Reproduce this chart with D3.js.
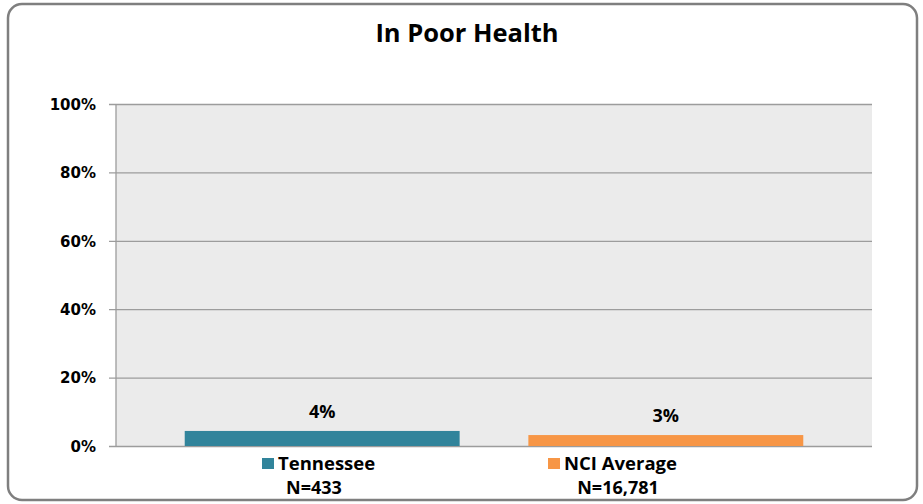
<!DOCTYPE html>
<html>
<head>
<meta charset="utf-8">
<script src="https://cdn.jsdelivr.net/npm/d3@7"></script>
<style>
  body { margin: 0; background: #fff; }
  text { font-family: "Open Sans", sans-serif; font-weight: bold; fill: #000; }
  .tick-label { font-family: "DejaVu Sans", sans-serif; font-size: 15px; }
</style>
</head>
<body>
<div id="chart"></div>
<script>
var series = ["Tennessee", "NCI Average"];
var values = [4.4, 3.2];
var valueLabels = ["4%", "3%"];
var sampleSizes = ["N=433", "N=16,781"];
var colors = ["#31849b", "#f79646"];
var yTicks = [0, 20, 40, 60, 80, 100];

var width = 923, height = 504;
var plot = { left: 116, right: 872, top: 104, bottom: 446 };

var svg = d3.select("#chart").append("svg")
  .attr("width", width)
  .attr("height", height);

// outer frame
svg.append("rect")
  .attr("x", 8).attr("y", 4)
  .attr("width", 909).attr("height", 496)
  .attr("rx", 14).attr("ry", 14)
  .attr("fill", "#fff")
  .attr("stroke", "#7f7f7f")
  .attr("stroke-width", 2.5);

svg.append("text")
  .attr("x", 467).attr("y", 42)
  .attr("text-anchor", "middle")
  .style("font-size", "25.5px")
  .text("In Poor Health");

var y = d3.scaleLinear().domain([0, 100]).range([plot.bottom, plot.top]);
var x = d3.scaleBand().domain(series)
  .range([plot.left, plot.right])
  .paddingInner(0.2)
  .paddingOuter(0.2);

svg.append("rect")
  .attr("x", plot.left).attr("y", plot.top)
  .attr("width", plot.right - plot.left)
  .attr("height", plot.bottom - plot.top)
  .attr("fill", "#ebebeb");

// gridlines + tick marks
var yAxis = d3.axisLeft(y)
  .tickValues(yTicks)
  .tickSize(-(plot.right - plot.left))
  .tickFormat(function (d) { return d + "%"; });

var gy = svg.append("g")
  .attr("transform", "translate(" + plot.left + ",0)")
  .call(yAxis);
gy.select(".domain").remove();
gy.selectAll(".tick line")
  .attr("x1", -7)
  .attr("stroke", "#9c9c9c")
  .attr("stroke-width", 1.3);
gy.selectAll(".tick text")
  .attr("class", "tick-label")
  .attr("x", -20)
  .attr("dy", "0.35em")
  .attr("fill", "#000");

svg.append("line")
  .attr("x1", plot.left).attr("x2", plot.left)
  .attr("y1", plot.top).attr("y2", plot.bottom)
  .attr("stroke", "#9c9c9c")
  .attr("stroke-width", 1.3);

// bars
svg.selectAll(".bar")
  .data(values)
  .enter().append("rect")
  .attr("class", "bar")
  .attr("x", function (d, i) { return x(series[i]); })
  .attr("y", function (d) { return y(d); })
  .attr("width", x.bandwidth())
  .attr("height", function (d) { return y(0) - y(d); })
  .attr("fill", function (d, i) { return colors[i]; });

svg.selectAll(".val")
  .data(values)
  .enter().append("text")
  .attr("class", "val")
  .attr("x", function (d, i) { return x(series[i]) + x.bandwidth() / 2; })
  .attr("y", function (d) { return y(d) - 13; })
  .attr("text-anchor", "middle")
  .style("font-size", "18px")
  .text(function (d, i) { return valueLabels[i]; });

// legend under axis
var legendX = [262, 548];
var nX = [314, 618];
var lg = svg.selectAll(".leg")
  .data(series)
  .enter().append("g")
  .attr("class", "leg");
lg.append("rect")
  .attr("x", function (d, i) { return legendX[i]; })
  .attr("y", 458)
  .attr("width", 12).attr("height", 11)
  .attr("fill", function (d, i) { return colors[i]; });
lg.append("text")
  .attr("x", function (d, i) { return legendX[i] + 16; })
  .attr("y", 470)
  .style("font-size", "18.5px")
  .text(function (d) { return d; });
lg.append("text")
  .attr("x", function (d, i) { return nX[i]; })
  .attr("y", 494)
  .attr("text-anchor", "middle")
  .style("font-size", "18px")
  .text(function (d, i) { return sampleSizes[i]; });
</script>
</body>
</html>
